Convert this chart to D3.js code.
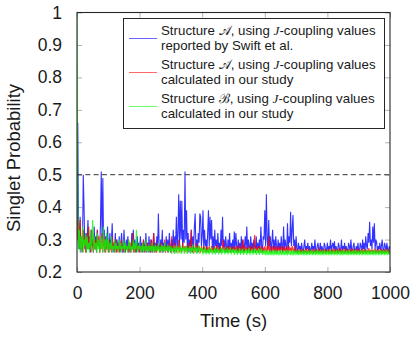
<!DOCTYPE html>
<html>
<head>
<meta charset="utf-8">
<script src="https://cdnjs.cloudflare.com/ajax/libs/d3/7.8.5/d3.min.js"></script>
<style>
  body { margin: 0; background: #fff; }
  svg text { font-family: "Liberation Sans", Arial, sans-serif; fill: #1a1a1a; }
</style>
</head>
<body>
<div id="my_dataviz"></div>
<script>
// sampling grid of the simulation (s), one value every 2.5 s
var time = d3.range(0, 1000.1, 2.5)

// Structure A, J-couplings from Swift et al.
var blueValues = [
  0.30, 0.66, 0.29, 0.27, 0.37, 0.26, 0.31, 0.27, 0.50, 0.40, 0.27, 0.32, 0.26, 0.30, 0.36, 0.27, 0.31, 0.26, 0.33, 0.28,
  0.30, 0.26, 0.34, 0.27, 0.31, 0.26, 0.33, 0.28, 0.30, 0.26, 0.35, 0.51, 0.30, 0.49, 0.28, 0.33, 0.26, 0.31, 0.27, 0.34,
  0.28, 0.26, 0.32, 0.27, 0.30, 0.35, 0.26, 0.29, 0.27, 0.32, 0.26, 0.30, 0.28, 0.27, 0.31, 0.26, 0.29, 0.32, 0.27, 0.26,
  0.33, 0.28, 0.26, 0.30, 0.27, 0.31, 0.26, 0.29, 0.28, 0.26, 0.32, 0.27, 0.33, 0.26, 0.30, 0.28, 0.26, 0.31, 0.27, 0.29,
  0.26, 0.31, 0.27, 0.29, 0.26, 0.30, 0.28, 0.26, 0.32, 0.27, 0.29, 0.26, 0.31, 0.27, 0.26, 0.30, 0.28, 0.26, 0.32, 0.27,
  0.29, 0.26, 0.31, 0.27, 0.38, 0.28, 0.26, 0.30, 0.27, 0.33, 0.26, 0.29, 0.28, 0.26, 0.31, 0.27, 0.30, 0.26, 0.32, 0.28,
  0.26, 0.30, 0.27, 0.33, 0.26, 0.31, 0.28, 0.37, 0.27, 0.32, 0.44, 0.28, 0.42, 0.30, 0.42, 0.27, 0.33, 0.29, 0.51, 0.30,
  0.39, 0.27, 0.32, 0.26, 0.30, 0.28, 0.33, 0.26, 0.31, 0.27, 0.34, 0.38, 0.27, 0.30, 0.26, 0.32, 0.29, 0.38, 0.37, 0.28,
  0.31, 0.39, 0.27, 0.33, 0.28, 0.30, 0.26, 0.32, 0.39, 0.28, 0.37, 0.30, 0.36, 0.27, 0.31, 0.26, 0.33, 0.28, 0.30, 0.26,
  0.32, 0.27, 0.29, 0.26, 0.33, 0.28, 0.37, 0.27, 0.30, 0.26, 0.31, 0.28, 0.26, 0.30, 0.27, 0.32, 0.26, 0.29, 0.27, 0.30,
  0.26, 0.325, 0.27, 0.32, 0.28, 0.26, 0.30, 0.27, 0.29, 0.26, 0.31, 0.27, 0.30, 0.26, 0.28, 0.31, 0.27, 0.34, 0.26, 0.30,
  0.28, 0.26, 0.31, 0.27, 0.29, 0.26, 0.30, 0.28, 0.26, 0.31, 0.27, 0.29, 0.26, 0.30, 0.27, 0.34, 0.28, 0.26, 0.31, 0.30,
  0.39, 0.28, 0.44, 0.30, 0.27, 0.36, 0.28, 0.31, 0.26, 0.29, 0.33, 0.27, 0.30, 0.26, 0.31, 0.28, 0.26, 0.30, 0.27, 0.29,
  0.26, 0.31, 0.28, 0.26, 0.34, 0.27, 0.30, 0.28, 0.26, 0.35, 0.27, 0.31, 0.29, 0.386, 0.28, 0.33, 0.376, 0.28, 0.30, 0.26,
  0.31, 0.27, 0.26, 0.29, 0.27, 0.28, 0.26, 0.29, 0.27, 0.26, 0.28, 0.30, 0.26, 0.28, 0.27, 0.29, 0.26, 0.28, 0.27, 0.26,
  0.29, 0.27, 0.28, 0.26, 0.30, 0.27, 0.26, 0.28, 0.29, 0.26, 0.27, 0.29, 0.26, 0.28, 0.27, 0.26, 0.29, 0.28, 0.26, 0.27,
  0.29, 0.26, 0.28, 0.27, 0.30, 0.26, 0.28, 0.29, 0.27, 0.295, 0.26, 0.28, 0.27, 0.26, 0.29, 0.28, 0.26, 0.27, 0.30, 0.26,
  0.28, 0.27, 0.29, 0.26, 0.28, 0.27, 0.26, 0.29, 0.28, 0.26, 0.30, 0.27, 0.26, 0.28, 0.29, 0.26, 0.27, 0.28, 0.26, 0.29,
  0.27, 0.26, 0.29, 0.28, 0.26, 0.30, 0.27, 0.29, 0.26, 0.31, 0.28, 0.27, 0.32, 0.29, 0.355, 0.28, 0.30, 0.27, 0.34, 0.29,
  0.35, 0.27, 0.30, 0.29, 0.26, 0.28, 0.27, 0.29, 0.26, 0.28, 0.30, 0.27, 0.26, 0.29, 0.28, 0.26, 0.29, 0.27, 0.26, 0.28,
  0.27
]

// Structure A, J-couplings from our study
var redValues = [
  0.30, 0.37, 0.27, 0.33, 0.36, 0.27, 0.30, 0.26, 0.33, 0.28, 0.31, 0.26, 0.32, 0.27, 0.29, 0.34, 0.27, 0.30, 0.26, 0.33,
  0.28, 0.26, 0.31, 0.27, 0.30, 0.26, 0.33, 0.28, 0.31, 0.26, 0.29, 0.27, 0.32, 0.26, 0.30, 0.28, 0.26, 0.31, 0.27, 0.29,
  0.26, 0.30, 0.27, 0.28, 0.26, 0.31, 0.27, 0.29, 0.26, 0.28, 0.30, 0.26, 0.27, 0.29, 0.26, 0.28, 0.27, 0.30, 0.26, 0.28,
  0.27, 0.26, 0.29, 0.27, 0.28, 0.26, 0.30, 0.27, 0.26, 0.29, 0.27, 0.32, 0.26, 0.28, 0.27, 0.26, 0.29, 0.27, 0.28, 0.26,
  0.29, 0.27, 0.26, 0.28, 0.27, 0.30, 0.26, 0.28, 0.27, 0.26, 0.29, 0.27, 0.28, 0.26, 0.30, 0.27, 0.26, 0.28, 0.32, 0.26,
  0.28, 0.27, 0.26, 0.29, 0.27, 0.28, 0.26, 0.29, 0.27, 0.26, 0.28, 0.27, 0.30, 0.26, 0.28, 0.27, 0.26, 0.29, 0.27, 0.28,
  0.26, 0.31, 0.27, 0.28, 0.26, 0.29, 0.27, 0.26, 0.28, 0.27, 0.30, 0.26, 0.28, 0.27, 0.26, 0.29, 0.27, 0.28, 0.26, 0.28,
  0.27, 0.26, 0.29, 0.27, 0.28, 0.26, 0.33, 0.27, 0.26, 0.28, 0.27, 0.26, 0.29, 0.27, 0.28, 0.26, 0.28, 0.27, 0.26, 0.28,
  0.27, 0.26, 0.28, 0.27, 0.26, 0.28, 0.265, 0.275, 0.26, 0.28, 0.27, 0.26, 0.28, 0.265, 0.275, 0.26, 0.28, 0.27, 0.26, 0.285,
  0.265, 0.275, 0.26, 0.28, 0.27, 0.26, 0.28, 0.30, 0.265, 0.275, 0.26, 0.28, 0.27, 0.26, 0.28, 0.265, 0.275, 0.26, 0.28, 0.27,
  0.26, 0.28, 0.265, 0.275, 0.26, 0.28, 0.27, 0.26, 0.285, 0.265, 0.275, 0.26, 0.30, 0.27, 0.26, 0.28, 0.265, 0.275, 0.26, 0.28,
  0.27, 0.26, 0.28, 0.265, 0.275, 0.26, 0.28, 0.314, 0.26, 0.28, 0.265, 0.275, 0.26, 0.28, 0.27, 0.26, 0.28, 0.265, 0.275, 0.26,
  0.28, 0.27, 0.26, 0.28, 0.265, 0.31, 0.26, 0.28, 0.27, 0.26, 0.28, 0.265, 0.275, 0.26, 0.28, 0.27, 0.26, 0.28, 0.265, 0.275,
  0.26, 0.28, 0.27, 0.26, 0.28, 0.265, 0.275, 0.26, 0.28, 0.27, 0.26, 0.28, 0.265, 0.275, 0.26, 0.28, 0.27, 0.26, 0.28, 0.265,
  0.262, 0.27, 0.256, 0.268, 0.26, 0.272, 0.256, 0.266, 0.262, 0.27, 0.256, 0.268, 0.26, 0.274, 0.256, 0.266, 0.262, 0.27, 0.256, 0.268,
  0.26, 0.272, 0.256, 0.266, 0.262, 0.27, 0.256, 0.268, 0.26, 0.275, 0.256, 0.266, 0.262, 0.27, 0.256, 0.268, 0.26, 0.272, 0.256, 0.266,
  0.262, 0.268, 0.256, 0.27, 0.26, 0.266, 0.256, 0.272, 0.262, 0.268, 0.256, 0.27, 0.26, 0.266, 0.256, 0.274, 0.262, 0.268, 0.256, 0.27,
  0.26, 0.266, 0.256, 0.272, 0.262, 0.268, 0.256, 0.27, 0.26, 0.266, 0.256, 0.272, 0.262, 0.268, 0.256, 0.27, 0.26, 0.266, 0.256, 0.272,
  0.262, 0.27, 0.256, 0.268, 0.26, 0.272, 0.256, 0.266, 0.262, 0.27, 0.256, 0.268, 0.26, 0.274, 0.256, 0.266, 0.262, 0.27, 0.256, 0.268,
  0.26, 0.272, 0.256, 0.266, 0.262, 0.27, 0.256, 0.268, 0.26, 0.272, 0.256, 0.266, 0.262, 0.27, 0.256, 0.268, 0.26, 0.272, 0.256, 0.266,
  0.262
]

// Structure B, J-couplings from our study
var greenValues = [
  1.00, 0.40, 0.27, 0.33, 0.26, 0.31, 0.27, 0.34, 0.26, 0.30, 0.28, 0.32, 0.26, 0.31, 0.27, 0.29, 0.26, 0.33, 0.27, 0.30,
  0.36, 0.26, 0.31, 0.27, 0.29, 0.26, 0.32, 0.27, 0.30, 0.26, 0.31, 0.27, 0.29, 0.26, 0.34, 0.27, 0.30, 0.26, 0.32, 0.27,
  0.30, 0.26, 0.29, 0.27, 0.31, 0.26, 0.28, 0.27, 0.30, 0.26, 0.29, 0.27, 0.28, 0.26, 0.30, 0.27, 0.29, 0.26, 0.28, 0.27,
  0.30, 0.26, 0.29, 0.27, 0.28, 0.26, 0.30, 0.27, 0.29, 0.26, 0.28, 0.27, 0.30, 0.26, 0.29, 0.27, 0.33, 0.26, 0.28, 0.27,
  0.29, 0.26, 0.28, 0.265, 0.29, 0.26, 0.28, 0.265, 0.30, 0.26, 0.28, 0.265, 0.285, 0.26, 0.28, 0.265, 0.29, 0.26, 0.28, 0.265,
  0.285, 0.26, 0.28, 0.265, 0.29, 0.26, 0.278, 0.265, 0.285, 0.26, 0.28, 0.265, 0.29, 0.26, 0.278, 0.265, 0.285, 0.26, 0.28, 0.265,
  0.28, 0.256, 0.275, 0.264, 0.282, 0.256, 0.274, 0.264, 0.28, 0.256, 0.275, 0.264, 0.285, 0.256, 0.274, 0.264, 0.28, 0.256, 0.275, 0.264,
  0.282, 0.256, 0.274, 0.264, 0.28, 0.256, 0.275, 0.264, 0.285, 0.256, 0.274, 0.264, 0.28, 0.256, 0.275, 0.264, 0.282, 0.256, 0.274, 0.264,
  0.275, 0.254, 0.27, 0.26, 0.276, 0.254, 0.268, 0.26, 0.275, 0.254, 0.27, 0.26, 0.276, 0.254, 0.268, 0.26, 0.275, 0.254, 0.27, 0.26,
  0.276, 0.254, 0.268, 0.26, 0.275, 0.254, 0.27, 0.26, 0.276, 0.254, 0.268, 0.26, 0.275, 0.254, 0.27, 0.26, 0.276, 0.254, 0.268, 0.26,
  0.272, 0.253, 0.268, 0.258, 0.272, 0.253, 0.266, 0.258, 0.274, 0.253, 0.268, 0.258, 0.272, 0.253, 0.266, 0.258, 0.272, 0.253, 0.268, 0.258,
  0.274, 0.253, 0.266, 0.258, 0.272, 0.253, 0.268, 0.258, 0.272, 0.253, 0.266, 0.258, 0.274, 0.253, 0.268, 0.258, 0.272, 0.253, 0.266, 0.258,
  0.267, 0.252, 0.263, 0.256, 0.268, 0.252, 0.262, 0.256, 0.267, 0.252, 0.263, 0.256, 0.268, 0.252, 0.262, 0.256, 0.267, 0.252, 0.263, 0.256,
  0.268, 0.252, 0.262, 0.256, 0.267, 0.252, 0.263, 0.256, 0.268, 0.252, 0.262, 0.256, 0.267, 0.252, 0.263, 0.256, 0.268, 0.252, 0.262, 0.256,
  0.267, 0.252, 0.263, 0.256, 0.268, 0.252, 0.262, 0.256, 0.267, 0.252, 0.263, 0.256, 0.268, 0.252, 0.262, 0.256, 0.267, 0.252, 0.263, 0.256,
  0.268, 0.252, 0.262, 0.256, 0.267, 0.252, 0.263, 0.256, 0.268, 0.252, 0.262, 0.256, 0.267, 0.252, 0.263, 0.256, 0.268, 0.252, 0.262, 0.256,
  0.267, 0.252, 0.263, 0.256, 0.268, 0.252, 0.262, 0.256, 0.267, 0.252, 0.263, 0.256, 0.268, 0.252, 0.262, 0.256, 0.267, 0.252, 0.263, 0.256,
  0.268, 0.252, 0.262, 0.256, 0.267, 0.252, 0.263, 0.256, 0.268, 0.252, 0.262, 0.256, 0.267, 0.252, 0.263, 0.256, 0.268, 0.252, 0.262, 0.256,
  0.267, 0.252, 0.263, 0.256, 0.268, 0.252, 0.262, 0.256, 0.267, 0.252, 0.263, 0.256, 0.268, 0.252, 0.262, 0.256, 0.267, 0.252, 0.263, 0.256,
  0.268, 0.252, 0.262, 0.256, 0.267, 0.252, 0.263, 0.256, 0.268, 0.252, 0.262, 0.256, 0.267, 0.252, 0.263, 0.256, 0.268, 0.252, 0.262, 0.256,
  0.262
]

var xTicks = [0, 200, 400, 600, 800, 1000]
var yTicks = [0.2, 0.3, 0.4, 0.5, 0.6, 0.7, 0.8, 0.9, 1]
var threshold = 0.5

var legendStructure = ["\u{1D49C}", "\u{1D49C}", "\u212C"]
var legendSecondLine = ["reported by Swift et al.", "calculated in our study", "calculated in our study"]

var seriesColors = ["#0000ff", "#ff0000", "#00ff00"]

// set the dimensions of the graph
var width = 416
var height = 340
var plotLeft = 77, plotRight = 390, plotTop = 12.5, plotBottom = 272

var svg = d3.select("#my_dataviz")
  .append("svg")
  .attr("width", width)
  .attr("height", height)

var x = d3.scaleLinear().domain([0, 1000]).range([plotLeft, plotRight])
var y = d3.scaleLinear().domain([0.2, 1]).range([plotBottom, plotTop])

// ticks point inward on all four sides, light grey
function styleAxis(g) {
  g.select(".domain").remove()
  g.selectAll(".tick line").attr("stroke", "#b0b0b0")
  g.selectAll(".tick text")
    .style("font-size", "17.5px")
    .attr("fill", "#1a1a1a")
}

svg.append("g")
  .attr("transform", "translate(0," + plotBottom + ")")
  .call(d3.axisBottom(x).tickValues(xTicks).tickSize(-5).tickPadding(15).tickFormat(d3.format("d")))
  .call(styleAxis)

svg.append("g")
  .attr("transform", "translate(0," + plotTop + ")")
  .call(d3.axisTop(x).tickValues(xTicks).tickSize(-5).tickFormat(""))
  .call(styleAxis)

svg.append("g")
  .attr("transform", "translate(" + plotLeft + ",0)")
  .call(d3.axisLeft(y).tickValues(yTicks).tickSize(-5).tickPadding(15).tickFormat(d3.format("")))
  .call(styleAxis)

svg.append("g")
  .attr("transform", "translate(" + plotRight + ",0)")
  .call(d3.axisRight(y).tickValues(yTicks).tickSize(-5).tickFormat(""))
  .call(styleAxis)

// clip series to the plot box
svg.append("clipPath")
  .attr("id", "plotclip")
  .append("rect")
  .attr("x", plotLeft)
  .attr("y", plotTop)
  .attr("width", plotRight - plotLeft)
  .attr("height", plotBottom - plotTop)

var line = d3.line()
  .x(function (d) { return x(d[0]) })
  .y(function (d) { return y(d[1]) })

var allSeries = [blueValues, redValues, greenValues]

svg.append("g")
  .attr("clip-path", "url(#plotclip)")
  .selectAll("path")
  .data(allSeries)
  .enter()
  .append("path")
  .attr("d", function (vals) { return line(d3.zip(time, vals)) })
  .attr("fill", "none")
  .attr("stroke", function (d, i) { return seriesColors[i] })
  .attr("stroke-width", 1.1)
  .attr("stroke-opacity", 0.8)

// dashed threshold
svg.append("line")
  .attr("x1", plotLeft)
  .attr("x2", plotRight)
  .attr("y1", y(threshold))
  .attr("y2", y(threshold))
  .attr("stroke", "#333")
  .attr("stroke-width", 1)
  .attr("stroke-dasharray", "5,3.3")

// frame
svg.append("rect")
  .attr("x", plotLeft)
  .attr("y", plotTop)
  .attr("width", plotRight - plotLeft)
  .attr("height", plotBottom - plotTop)
  .attr("fill", "none")
  .attr("stroke", "#262626")
  .attr("stroke-width", 1.1)

// axis titles
svg.append("text")
  .attr("x", (plotLeft + plotRight) / 2)
  .attr("y", 327)
  .attr("text-anchor", "middle")
  .style("font-size", "18.5px")
  .text("Time (s)")

svg.append("text")
  .attr("transform", "translate(20,158) rotate(-90)")
  .attr("text-anchor", "middle")
  .style("font-size", "18.5px")
  .text("Singlet Probability")

// legend
var legend = svg.append("g")

legend.append("rect")
  .attr("x", 123.5)
  .attr("y", 18.5)
  .attr("width", 261)
  .attr("height", 110)
  .attr("fill", "#fff")
  .attr("stroke", "#262626")
  .attr("stroke-width", 1)

legendStructure.forEach(function (s, i) {
  var base = 35 + i * 34
  legend.append("line")
    .attr("x1", 129)
    .attr("x2", 157)
    .attr("y1", base + 3.5)
    .attr("y2", base + 3.5)
    .attr("stroke", seriesColors[i])
    .attr("stroke-opacity", 0.6)
    .attr("stroke-width", 1)

  var t = legend.append("text")
    .attr("x", 161)
    .attr("y", base)
    .style("font-size", "13.3px")
  t.append("tspan").text("Structure ")
  t.append("tspan").text(s)
  t.append("tspan").text(", using ")
  t.append("tspan").style("font-style", "italic").style("font-family", "Liberation Serif, serif").text("J")
  t.append("tspan").text("-coupling values")

  legend.append("text")
    .attr("x", 161)
    .attr("y", base + 15)
    .style("font-size", "13.3px")
    .text(legendSecondLine[i])
})
</script>
</body>
</html>
